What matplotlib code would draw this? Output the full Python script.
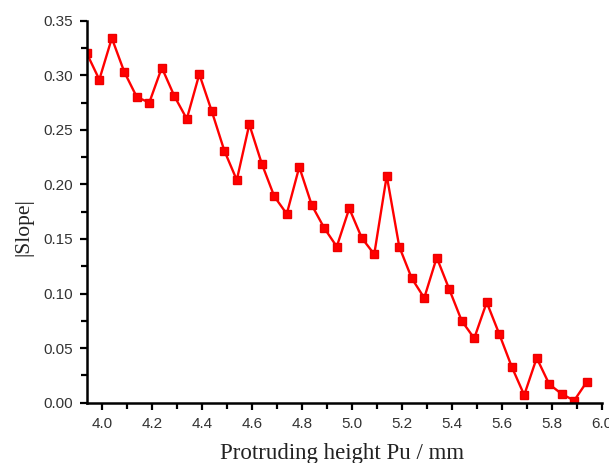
import matplotlib
matplotlib.use("Agg")
import matplotlib.pyplot as plt
from matplotlib.ticker import MultipleLocator

#Protruding height (mm) and |slope| values
height = [3.94, 3.99, 4.04, 4.09, 4.14, 4.19, 4.24, 4.29, 4.34, 4.39,
          4.44, 4.49, 4.54, 4.59, 4.64, 4.69, 4.74, 4.79, 4.84, 4.89,
          4.94, 4.99, 5.04, 5.09, 5.14, 5.19, 5.24, 5.29, 5.34, 5.39,
          5.44, 5.49, 5.54, 5.59, 5.64, 5.69, 5.74, 5.79, 5.84, 5.89, 5.94]
slope = [0.320, 0.296, 0.334, 0.303, 0.280, 0.275, 0.307, 0.281, 0.260, 0.301,
         0.267, 0.231, 0.204, 0.255, 0.219, 0.189, 0.173, 0.216, 0.181, 0.160,
         0.143, 0.178, 0.151, 0.136, 0.208, 0.143, 0.114, 0.096, 0.133, 0.104,
         0.075, 0.059, 0.092, 0.063, 0.033, 0.007, 0.041, 0.017, 0.008, 0.002, 0.019]

fig = plt.figure(figsize=(6.09, 4.63), dpi=100)
ax = fig.add_axes([0.1434, 0.1302, 0.8446, 0.8251])

ax.plot(height, slope, color='#ff0000', lw=1.7, marker='s', markersize=6,
        markerfacecolor='#ff0000', markeredgecolor='#ee0000')

ax.set_xlim(3.942, 6.0)
ax.set_ylim(0, 0.35)

#Axis styling: only left and bottom spines
for side in ['top', 'right']:
    ax.spines[side].set_visible(False)
for side in ['left', 'bottom']:
    ax.spines[side].set_linewidth(1.8)
    ax.spines[side].set_color('black')

ax.xaxis.set_major_locator(MultipleLocator(0.2))
ax.xaxis.set_minor_locator(MultipleLocator(0.1))
ax.yaxis.set_major_locator(MultipleLocator(0.05))
ax.yaxis.set_minor_locator(MultipleLocator(0.025))
ax.xaxis.set_major_formatter(plt.FormatStrFormatter('%.1f'))
ax.yaxis.set_major_formatter(plt.FormatStrFormatter('%.2f'))

ax.tick_params(which='both', direction='out', width=1.6, color='black',
               labelsize=11, labelcolor='#333333')
ax.tick_params(which='major', length=5, pad=5)
ax.tick_params(which='minor', length=4)
for lab in ax.get_xticklabels() + ax.get_yticklabels():
    lab.set_family('Liberation Sans')

fig.text(0.5624, 0.0086, 'Protruding height Pu / mm', ha='center', va='baseline',
         fontsize=16.5, family='Liberation Serif', color='#222222')
fig.text(0.039, 0.51, '|Slope|', ha='center', va='center', rotation=90,
         fontsize=15.5, family='Liberation Serif', color='#222222')

plt.savefig('out.png', dpi=100)
